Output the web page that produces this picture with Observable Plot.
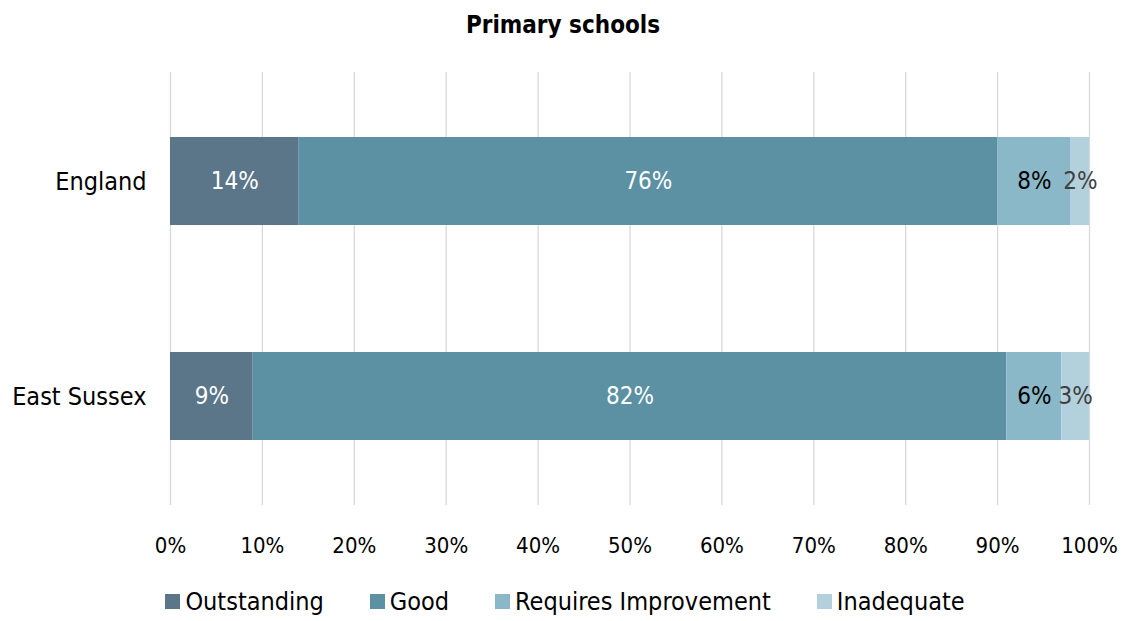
<!DOCTYPE html>
<html>
<head>
<meta charset="utf-8">
<script src="https://cdn.jsdelivr.net/npm/d3@7"></script>
<script src="https://cdn.jsdelivr.net/npm/@observablehq/plot@0.6"></script>
<style>
  html, body { margin: 0; padding: 0; background: #fff; }
  body { width: 1126px; height: 621px; font-family: "DejaVu Sans Condensed", "DejaVu Sans", sans-serif; }
  #title { height: 50px; line-height: 50px; text-align: center; font-weight: bold; font-size: 24px; color: #000; }
  #legend { display: flex; justify-content: center; gap: 46px; font-size: 25px; color: #000; margin-top: 17px; padding-left: 4px; }
  #legend .item { display: flex; align-items: center; }
  #legend .sw { width: 15px; height: 15px; margin-right: 5px; }
</style>
</head>
<body>
<div id="title">Primary schools</div>
<div id="chart"></div>
<div id="legend"></div>
<script>
const areas = ["England", "East Sussex"];
const categories = ["Outstanding", "Good", "Requires Improvement", "Inadequate"];
const englandValues = [14, 76, 8, 2];
const eastSussexValues = [9, 82, 6, 3];
const colors = ["#5a7688", "#5b91a3", "#8ab8c8", "#b3d1dc"];
const labelColors = ["#ffffff", "#ffffff", "#000000", "#404040"];
const xTicks = [0, 10, 20, 30, 40, 50, 60, 70, 80, 90, 100];

const seriesByArea = [englandValues, eastSussexValues];
const rows = [];
areas.forEach((area, i) => {
  const vals = seriesByArea[i];
  const ends = Array.from(d3.cumsum(vals));
  vals.forEach((v, j) => {
    const x2 = ends[j], x1 = x2 - v;
    rows.push({area, category: categories[j], value: v, x1, x2, mid: (x1 + x2) / 2, ci: j});
  });
});

const textMarks = categories.map((c, j) =>
  Plot.text(rows.filter(d => d.ci === j), {
    x: "mid", y: "area", text: d => d.value + "%",
    fill: labelColors[j], fontSize: 24
  })
);

const chart = Plot.plot({
  width: 1126,
  height: 520,
  marginLeft: 170,
  marginRight: 37,
  marginTop: 22,
  marginBottom: 65,
  style: { fontFamily: '"DejaVu Sans Condensed", "DejaVu Sans", sans-serif', background: "#fff", color: "#000" },
  x: { domain: [0, 100], ticks: xTicks, tickFormat: d => d + "%" },
  y: { domain: areas, paddingInner: 0.59, paddingOuter: 0.3 },
  color: { domain: categories, range: colors },
  marks: [
    Plot.ruleX(xTicks, { stroke: "#d9d9d9", strokeWidth: 1.3 }),
    Plot.barX(rows, { x1: "x1", x2: "x2", y: "area", fill: "category", fillOpacity: 1 }),
    ...textMarks,
    Plot.axisX({ ticks: xTicks, tickFormat: d => d + "%", tickSize: 0, tickPadding: 32, fontSize: 22, label: null }),
    Plot.axisY({ tickSize: 0, tickPadding: 24, fontSize: 25, label: null })
  ]
});
document.getElementById("chart").appendChild(chart);

const legend = document.getElementById("legend");
categories.forEach((c, j) => {
  const item = document.createElement("div");
  item.className = "item";
  const sw = document.createElement("span");
  sw.className = "sw";
  sw.style.background = colors[j];
  const t = document.createElement("span");
  t.textContent = c;
  item.appendChild(sw);
  item.appendChild(t);
  legend.appendChild(item);
});
</script>
</body>
</html>
